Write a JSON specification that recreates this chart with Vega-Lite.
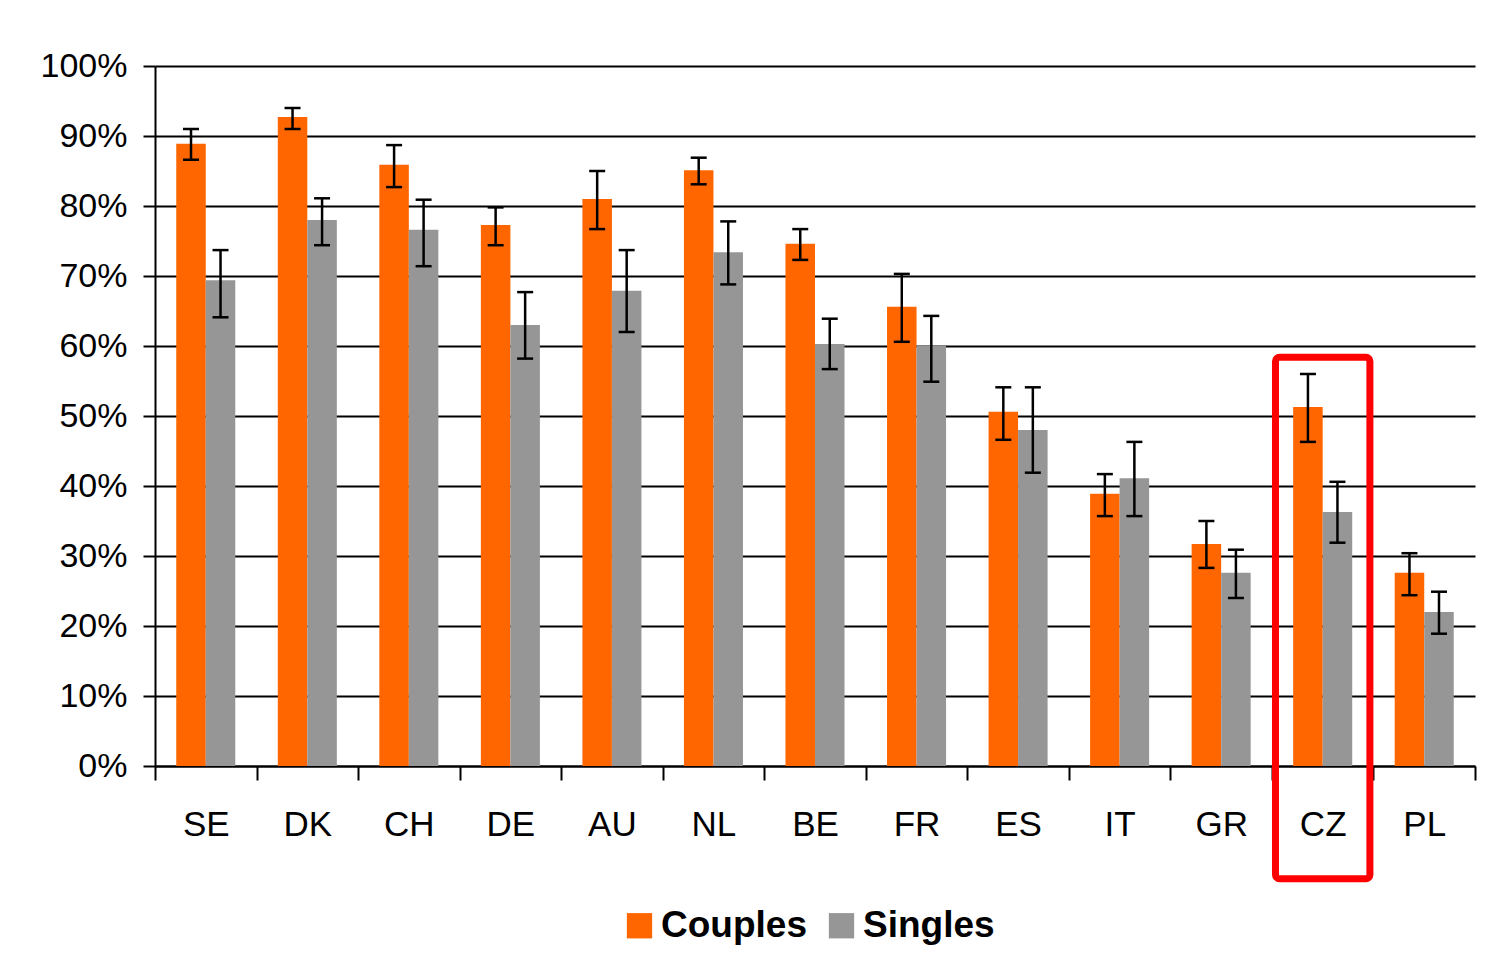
{
  "$schema": "https://vega.github.io/schema/vega-lite/v6.json",
  "width": 1320,
  "height": 700,
  "autosize": {"type": "none"},
  "padding": {"left": 155, "top": 66, "right": 12, "bottom": 191},
  "background": "white",
  "config": {
    "view": {"stroke": null},
    "font": "Liberation Sans",
    "axis": {
      "domainColor": "black",
      "domainWidth": 2,
      "tickColor": "black",
      "tickWidth": 2,
      "gridColor": "black",
      "gridWidth": 2,
      "gridOpacity": 1,
      "labelColor": "black",
      "labelFont": "Liberation Sans"
    }
  },
  "datasets": {
    "bars": [
      {"country": "SE", "group": "Couples", "value": 0.889, "lo": 0.866, "hi": 0.910},
      {"country": "SE", "group": "Singles", "value": 0.694, "lo": 0.641, "hi": 0.737},
      {"country": "DK", "group": "Couples", "value": 0.927, "lo": 0.910, "hi": 0.940},
      {"country": "DK", "group": "Singles", "value": 0.780, "lo": 0.744, "hi": 0.811},
      {"country": "CH", "group": "Couples", "value": 0.859, "lo": 0.827, "hi": 0.887},
      {"country": "CH", "group": "Singles", "value": 0.766, "lo": 0.714, "hi": 0.809},
      {"country": "DE", "group": "Couples", "value": 0.773, "lo": 0.744, "hi": 0.798},
      {"country": "DE", "group": "Singles", "value": 0.630, "lo": 0.582, "hi": 0.677},
      {"country": "AU", "group": "Couples", "value": 0.810, "lo": 0.767, "hi": 0.850},
      {"country": "AU", "group": "Singles", "value": 0.679, "lo": 0.620, "hi": 0.737},
      {"country": "NL", "group": "Couples", "value": 0.851, "lo": 0.831, "hi": 0.869},
      {"country": "NL", "group": "Singles", "value": 0.734, "lo": 0.688, "hi": 0.778},
      {"country": "BE", "group": "Couples", "value": 0.746, "lo": 0.723, "hi": 0.767},
      {"country": "BE", "group": "Singles", "value": 0.603, "lo": 0.567, "hi": 0.639},
      {"country": "FR", "group": "Couples", "value": 0.656, "lo": 0.606, "hi": 0.703},
      {"country": "FR", "group": "Singles", "value": 0.600, "lo": 0.549, "hi": 0.643},
      {"country": "ES", "group": "Couples", "value": 0.506, "lo": 0.466, "hi": 0.541},
      {"country": "ES", "group": "Singles", "value": 0.480, "lo": 0.419, "hi": 0.541},
      {"country": "IT", "group": "Couples", "value": 0.389, "lo": 0.357, "hi": 0.417},
      {"country": "IT", "group": "Singles", "value": 0.411, "lo": 0.357, "hi": 0.463},
      {"country": "GR", "group": "Couples", "value": 0.317, "lo": 0.283, "hi": 0.350},
      {"country": "GR", "group": "Singles", "value": 0.276, "lo": 0.240, "hi": 0.309},
      {"country": "CZ", "group": "Couples", "value": 0.513, "lo": 0.463, "hi": 0.560},
      {"country": "CZ", "group": "Singles", "value": 0.363, "lo": 0.319, "hi": 0.406},
      {"country": "PL", "group": "Couples", "value": 0.276, "lo": 0.244, "hi": 0.304},
      {"country": "PL", "group": "Singles", "value": 0.220, "lo": 0.189, "hi": 0.249}
    ],
    "box": [
      {"country": "CZ", "top": 0.584, "bottom": -0.161}
    ]
  },
  "layer": [
    {
      "data": {"name": "bars"},
      "mark": {"type": "bar"},
      "encoding": {
        "x": {
          "field": "country",
          "type": "nominal",
          "title": null,
          "scale": {
            "domain": ["SE", "DK", "CH", "DE", "AU", "NL", "BE", "FR", "ES", "IT", "GR", "CZ", "PL"],
            "paddingInner": 0,
            "paddingOuter": 0
          },
          "axis": {
            "labelAngle": 0,
            "labelFontSize": 35,
            "labelPadding": 27,
            "tickSize": 14,
            "tickBand": "extent",
            "grid": false
          }
        },
        "xOffset": {
          "field": "group",
          "type": "nominal",
          "scale": {"domain": ["Couples", "Singles"], "paddingInner": 0, "paddingOuter": 0.72}
        },
        "y": {
          "field": "value",
          "type": "quantitative",
          "title": null,
          "scale": {"domain": [0, 1], "nice": false},
          "axis": {
            "values": [0, 0.1, 0.2, 0.3, 0.4, 0.5, 0.6, 0.7, 0.8, 0.9, 1],
            "format": ".0%",
            "labelFontSize": 34,
            "labelPadding": 16,
            "tickSize": 12,
            "grid": true
          }
        },
        "color": {
          "field": "group",
          "type": "nominal",
          "scale": {"domain": ["Couples", "Singles"], "range": ["#FF6600", "#969696"]},
          "legend": {
            "title": null,
            "orient": "none",
            "direction": "horizontal",
            "legendX": 466,
            "legendY": 841,
            "symbolType": "square",
            "symbolSize": 640,
            "symbolStrokeWidth": 0,
            "symbolOpacity": 1,
            "labelFontSize": 37,
            "labelFontWeight": "bold",
            "labelFont": "Liberation Sans",
            "labelColor": "black",
            "labelOffset": 3,
            "columnPadding": 16
          }
        }
      }
    },
    {
      "data": {"name": "bars"},
      "mark": {"type": "rule", "color": "black", "strokeWidth": 2.5},
      "encoding": {
        "x": {"field": "country", "type": "nominal", "title": null},
        "xOffset": {"field": "group", "type": "nominal"},
        "y": {"field": "lo", "type": "quantitative", "title": null},
        "y2": {"field": "hi"}
      }
    },
    {
      "data": {"name": "bars"},
      "mark": {"type": "tick", "color": "black", "size": 16, "thickness": 2.5, "opacity": 1},
      "encoding": {
        "x": {"field": "country", "type": "nominal", "title": null},
        "xOffset": {"field": "group", "type": "nominal"},
        "y": {"field": "lo", "type": "quantitative", "title": null}
      }
    },
    {
      "data": {"name": "bars"},
      "mark": {"type": "tick", "color": "black", "size": 16, "thickness": 2.5, "opacity": 1},
      "encoding": {
        "x": {"field": "country", "type": "nominal", "title": null},
        "xOffset": {"field": "group", "type": "nominal"},
        "y": {"field": "hi", "type": "quantitative", "title": null}
      }
    },
    {
      "data": {"name": "box"},
      "mark": {"type": "bar", "fill": null, "fillOpacity": 0, "stroke": "#FF0000", "strokeWidth": 7, "cornerRadius": 4, "width": {"band": 0.93}},
      "encoding": {
        "x": {"field": "country", "type": "nominal", "title": null},
        "y": {"field": "top", "type": "quantitative", "title": null},
        "y2": {"field": "bottom"}
      }
    }
  ]
}
